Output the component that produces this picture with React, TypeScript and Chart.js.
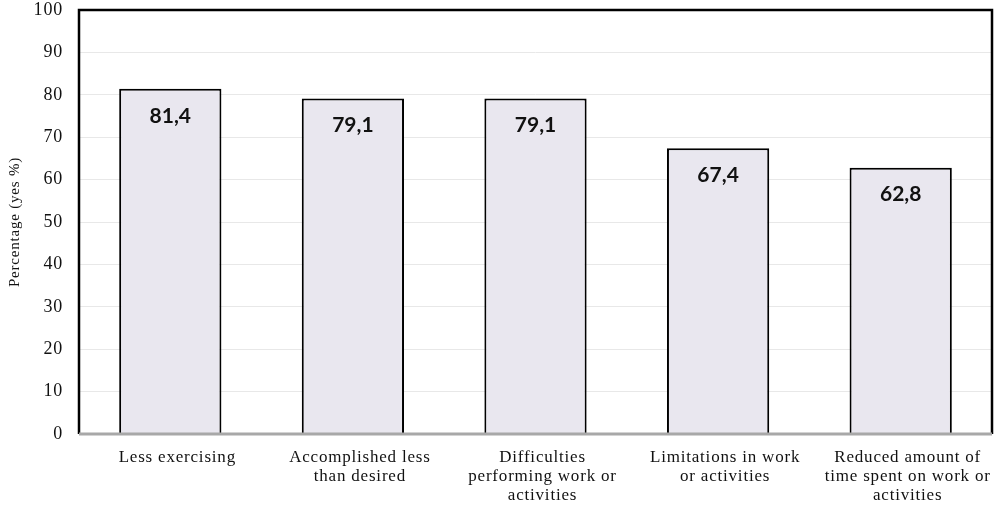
import React, { useEffect, useRef } from "react";
import { Chart, registerables } from "chart.js";

Chart.register(...registerables);

const categories: string[][] = [
  ["Less exercising"],
  ["Accomplished less", "than desired"],
  ["Difficulties", "performing work or", "activities"],
  ["Limitations in work", "or activities"],
  ["Reduced amount of", "time spent on work or", "activities"],
];
const values: number[] = [81.4, 79.1, 79.1, 67.4, 62.8];
const valueLabels: string[] = ["81,4", "79,1", "79,1", "67,4", "62,8"];
const yTitle = "Percentage (yes %)";

const spacingPlugin = {
  id: "spacing",
  beforeUpdate(chart: any) {
    (chart.ctx as any).letterSpacing = "0.8px";
  },
  beforeDraw(chart: any) {
    (chart.ctx as any).letterSpacing = "0.8px";
  },
};

const framePlugin = {
  id: "frame",
  afterDatasetsDraw(chart: any) {
    const { ctx } = chart;
    const meta = chart.getDatasetMeta(0);
    ctx.save();
    (ctx as any).letterSpacing = "0px";
    ctx.font = "bold 21px Lato";
    ctx.fillStyle = "#111";
    ctx.textAlign = "center";
    ctx.textBaseline = "middle";
    meta.data.forEach((bar: any, i: number) => {
      ctx.fillText(valueLabels[i], bar.x, bar.y + 27);
    });
    ctx.restore();
  },
  afterDraw(chart: any) {
    const { ctx, chartArea } = chart;
    const { left, right, top, bottom } = chartArea;
    ctx.save();
    ctx.strokeStyle = "#000";
    ctx.lineWidth = 2.5;
    ctx.beginPath();
    ctx.moveTo(left, bottom);
    ctx.lineTo(left, top);
    ctx.lineTo(right, top);
    ctx.lineTo(right, bottom);
    ctx.stroke();
    ctx.strokeStyle = "#a8a8a8";
    ctx.lineWidth = 3;
    ctx.beginPath();
    ctx.moveTo(left, bottom);
    ctx.lineTo(right, bottom);
    ctx.stroke();
    ctx.restore();
  },
};

export default function App() {
  const ref = useRef<HTMLCanvasElement>(null);
  useEffect(() => {
    if (!ref.current) return;
    const chart = new Chart(ref.current, {
      type: "bar",
      data: {
        labels: categories,
        datasets: [
          {
            data: values,
            backgroundColor: "#e9e7ef",
            borderColor: "#000",
            borderWidth: 2,
            barPercentage: 0.56,
            categoryPercentage: 1,
          },
        ],
      },
      options: {
        animation: false,
        responsive: true,
        maintainAspectRatio: false,
        layout: { padding: { top: 10, right: 8, left: 0, bottom: 0 } },
        plugins: {
          legend: { display: false },
          tooltip: { enabled: false },
        },
        scales: {
          x: {
            grid: { display: false, drawTicks: false },
            border: { display: false },
            ticks: {
              color: "#111",
              font: { family: "Liberation Serif", size: 17, lineHeight: 19 / 17 },
              padding: 14,
              labelOffset: 7,
              maxRotation: 0,
              autoSkip: false,
            },
            afterFit(scale: any) {
              scale.height = 73;
              scale.paddingLeft = 0;
              scale.paddingRight = 0;
            },
          },
          y: {
            min: 0,
            max: 100,
            grid: { color: "#e8e8e8", lineWidth: 1, drawTicks: false },
            border: { display: false },
            ticks: {
              stepSize: 10,
              color: "#111",
              font: { family: "Liberation Serif", size: 18 },
              padding: 16,
            },
            title: {
              display: true,
              text: yTitle,
              color: "#111",
              font: { family: "Liberation Serif", size: 15 },
              padding: { top: 6, bottom: 4 },
            },
            afterFit(scale: any) {
              scale.width = 79;
              scale.paddingTop = 0;
              scale.paddingBottom = 0;
            },
          },
        },
      },
      plugins: [spacingPlugin, framePlugin],
    });
    return () => chart.destroy();
  }, []);
  return (
    <div style={{ position: "absolute", left: 0, top: 0, width: 1000, height: 507, background: "#fff" }}>
      <canvas ref={ref} />
    </div>
  );
}
